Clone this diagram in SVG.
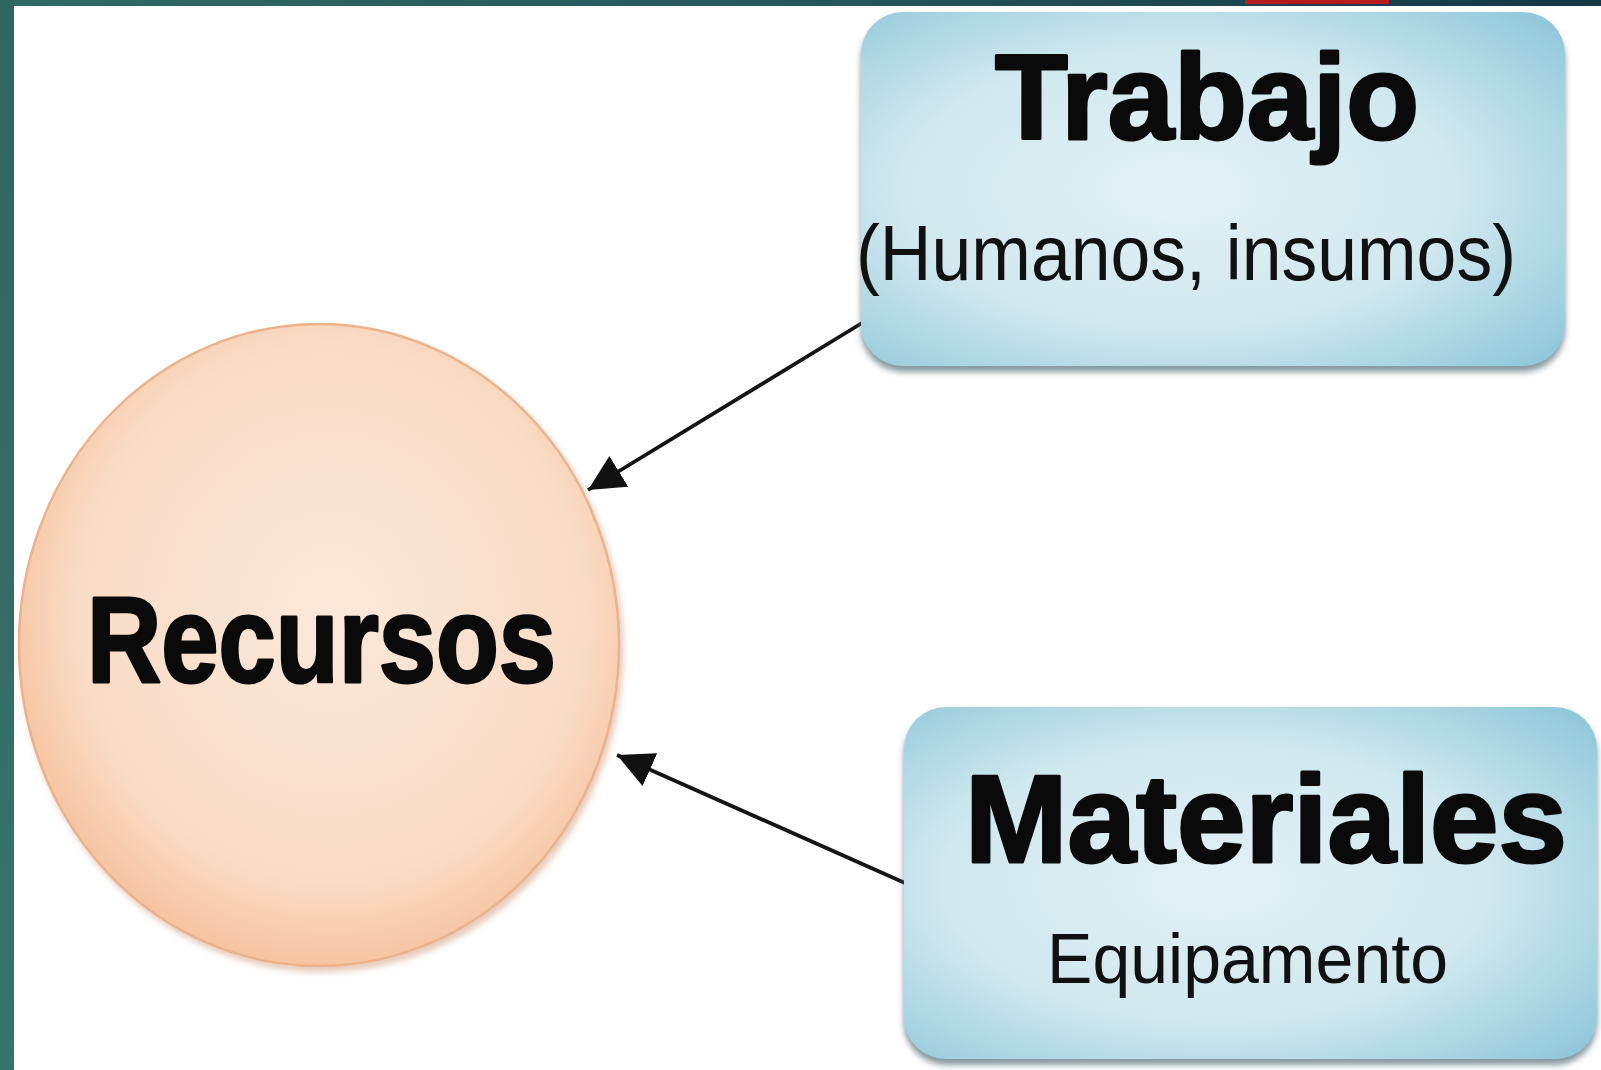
<svg xmlns="http://www.w3.org/2000/svg" width="1601" height="1070" viewBox="0 0 1601 1070">
  <style>
    .head { font-family: "Liberation Sans", Arial, sans-serif; font-weight: bold; fill: #0a0a0a; stroke: #0a0a0a; stroke-width: 3; stroke-linejoin: round; }
    .sub { font-family: "Liberation Sans", Arial, sans-serif; fill: #111; }
    .conn { stroke: #151515; stroke-width: 3.8; fill: none; }
  </style>
  <defs>
    <linearGradient id="barTop" x1="0" y1="0" x2="1" y2="0">
      <stop offset="0" stop-color="#2f6b65"/>
      <stop offset="0.55" stop-color="#24545a"/>
      <stop offset="1" stop-color="#143646"/>
    </linearGradient>
    <linearGradient id="barLeft" x1="0" y1="0" x2="0" y2="1">
      <stop offset="0" stop-color="#2e655f"/>
      <stop offset="1" stop-color="#36756c"/>
    </linearGradient>
    <radialGradient id="boxFill" cx="0.45" cy="0.5" r="0.72">
      <stop offset="0" stop-color="#e3f1f5"/>
      <stop offset="0.55" stop-color="#d0e8ef"/>
      <stop offset="1" stop-color="#8ec7d9"/>
    </radialGradient>
    <radialGradient id="circFill" cx="0.52" cy="0.45" r="0.56">
      <stop offset="0" stop-color="#fbe8da"/>
      <stop offset="0.75" stop-color="#f9dcc6"/>
      <stop offset="1" stop-color="#f6c29e"/>
    </radialGradient>
    <filter id="shadow" x="-10%" y="-10%" width="120%" height="125%">
      <feDropShadow dx="0" dy="6" stdDeviation="3" flood-color="#5d7580" flood-opacity="0.75"/>
    </filter>
    <filter id="cshadow" x="-10%" y="-10%" width="120%" height="120%">
      <feDropShadow dx="3" dy="5" stdDeviation="3" flood-color="#c98a66" flood-opacity="0.45"/>
    </filter>
    <marker id="arrow" markerUnits="userSpaceOnUse" markerWidth="40" markerHeight="40" viewBox="0 0 40 40" refX="36" refY="18" orient="auto">
      <path d="M0,0 L36,18 L0,36 Z" fill="#111"/>
    </marker>
  </defs>

  <rect x="0" y="0" width="1601" height="1070" fill="#ffffff"/>
  <g id="frame">
    <rect x="0" y="0" width="1601" height="6" fill="url(#barTop)"/>
    <rect x="0" y="0" width="14" height="1070" fill="url(#barLeft)"/>
    <rect x="1245" y="0" width="144" height="4" fill="#b81c1c"/>
  </g>

  <g id="connectors">
    <line class="conn" x1="862" y1="323" x2="588" y2="490" marker-end="url(#arrow)"/>
    <line class="conn" x1="905" y1="883" x2="617" y2="755" marker-end="url(#arrow)"/>
  </g>

  <g id="node-recursos">
    <ellipse cx="319" cy="645" rx="300" ry="321" fill="url(#circFill)" stroke="#ebb28c" stroke-width="2.5" filter="url(#cshadow)"/>
    <text class="head" x="87" y="682" font-size="122" textLength="469" lengthAdjust="spacingAndGlyphs">Recursos</text>
  </g>

  <g id="node-trabajo">
    <rect x="861" y="12" width="704" height="354" rx="42" ry="42" fill="url(#boxFill)" filter="url(#shadow)"/>
    <text class="head" x="995" y="139" font-size="120" textLength="424" lengthAdjust="spacingAndGlyphs">Trabajo</text>
    <text class="sub" x="856" y="280" font-size="78" textLength="660" lengthAdjust="spacingAndGlyphs">(Humanos, insumos)</text>
  </g>

  <g id="node-materiales">
    <rect x="904" y="707" width="693" height="352" rx="42" ry="42" fill="url(#boxFill)" filter="url(#shadow)"/>
    <text class="head" x="965" y="862" font-size="125" textLength="602" lengthAdjust="spacingAndGlyphs">Materiales</text>
    <text class="sub" x="1047" y="983" font-size="71" textLength="401" lengthAdjust="spacingAndGlyphs">Equipamento</text>
  </g>
</svg>
